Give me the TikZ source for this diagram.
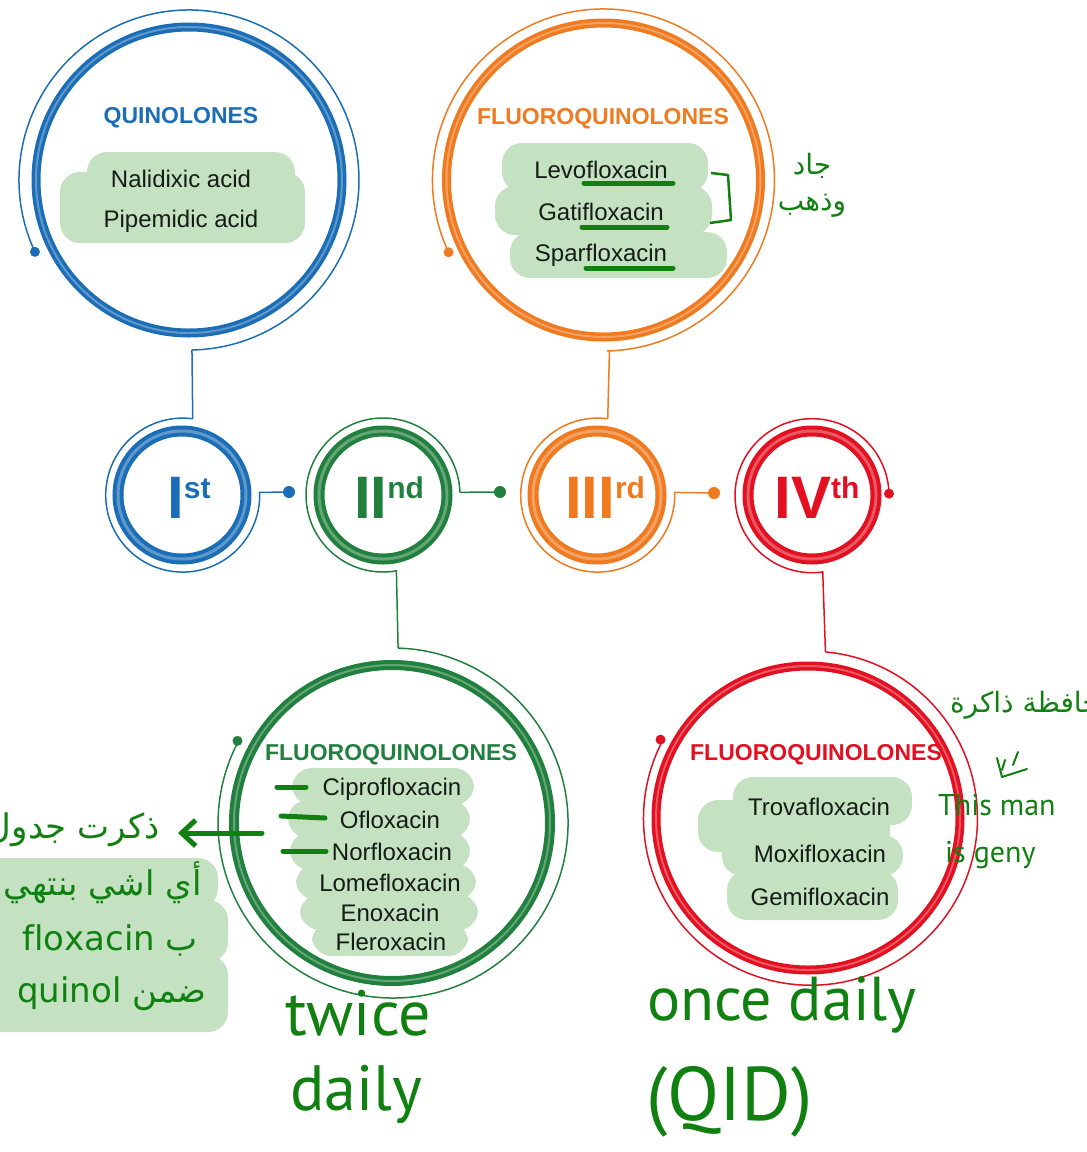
\documentclass[tikz,border=0pt]{standalone}
\usepackage{fontspec}
\setmainfont{Liberation Sans}
\newfontfamily\arabicfont[Script=Arabic]{DejaVu Sans}
\newfontfamily\handfont{PT Sans}
\TeXXeTstate=1
\usepackage{xcolor}
\usepackage{tikz}
\usetikzlibrary{arrows.meta}

\definecolor{genblue}{RGB}{27,110,182}
\definecolor{genorange}{RGB}{240,122,32}
\definecolor{gengreen}{RGB}{34,128,62}
\definecolor{genred}{RGB}{226,16,32}
\definecolor{ink}{RGB}{16,128,16}
\definecolor{marker}{RGB}{196,226,194}
\definecolor{drugtext}{RGB}{20,28,20}

\newcommand{\supord}[1]{\raisebox{20pt}{\fontsize{30}{30}\selectfont #1}}

\begin{document}
\begin{tikzpicture}[x=1pt,y=1pt,
  frame/.style={circle,inner sep=0pt,outer sep=0pt,minimum size=#1},
  tube/.style={line width=#1},
  wire/.style={line width=1.5pt},
  dot/.style={circle,fill=#1,inner sep=0pt,minimum size=12pt},
  title/.style={anchor=base,font=\fontsize{23}{23}\selectfont\bfseries},
  drug/.style={anchor=base,text=drugtext,font=\fontsize{24}{24}\selectfont},
  gen/.style={anchor=base,font=\fontsize{60}{60}\selectfont\bfseries},
  blob/.style={fill=marker,rounded corners=20pt},
  scribble/.style={draw=ink,line width=5pt,line cap=round,line join=round},
  hand/.style={text=ink,anchor=base west,inner sep=0pt,font=\handfont\fontsize{#1}{#1}\selectfont},
  arab/.style={text=ink,anchor=base east,inner sep=0pt,font=\arabicfont\fontsize{#1}{#1}\selectfont}]

\useasboundingbox (0,0) rectangle (1087,-1152);
\clip (0,0) rectangle (1087,-1152);

% outer frames: radius of the thin arcs
\node[frame=340pt] (bigI) at (189,-180) {};
\node[frame=342pt] (bigIII) at (603.5,-180) {};
\node[frame=350pt] (bigII) at (392,-823) {};
\node[frame=334pt] (bigIV) at (808,-818) {};
\node[frame=154pt] (genI) at (182,-495) {};
\node[frame=154pt] (genII) at (383,-495) {};
\node[frame=154pt] (genIII) at (597,-495) {};
\node[frame=154pt] (genIV) at (812,-495) {};
\node[dot=genblue] (dotI) at (289,-492) {};
\node[dot=gengreen] (dotII) at (500,-492) {};
\node[dot=genorange] (dotIII) at (714,-493) {};

% highlighter blobs
\fill[blob] (87,-152) rectangle (295,-200);
\fill[blob] (60,-172) rectangle (305,-243);
\fill[blob] (502,-143) rectangle (708,-192);
\fill[blob] (495,-186) rectangle (712,-235);
\fill[blob] (510,-232) rectangle (727,-278);
\fill[blob] (292,-768) rectangle (474,-805);
\fill[blob] (288,-800) rectangle (470,-838);
\fill[blob] (290,-832) rectangle (470,-870);
\fill[blob] (296,-864) rectangle (476,-900);
\fill[blob] (300,-894) rectangle (478,-930);
\fill[blob] (312,-922) rectangle (468,-956);
\fill[blob] (733,-777) rectangle (912,-825);
\fill[blob] (698,-800) rectangle (890,-852);
\fill[blob] (722,-835) rectangle (903,-876);
\fill[blob] (727,-870) rectangle (898,-920);
\fill[blob] (-30,-858) rectangle (218,-908);
\fill[blob] (-30,-900) rectangle (228,-962);
\fill[blob] (-30,-955) rectangle (228,-1032);

% first generation
\draw[genblue,tube=9pt] (bigI.center) circle[radius=153];
\draw[white,opacity=.3,tube=2pt] (bigI.center) circle[radius=153];
\draw[genblue,wire] (bigI.205) arc[start angle=205,end angle=-89,radius=170];
\fill[genblue] (bigI.205) circle[radius=5];
\draw[genblue,wire] (bigI.-89) -- (genI.82.54);
\draw[genblue,tube=11pt] (genI.center) circle[radius=64];
\draw[white,opacity=.3,tube=3pt] (genI.center) circle[radius=64];
\draw[genblue,wire] (genI.82.54) arc[start angle=82.54,end angle=362,radius=77] -- (dotI);

% second generation
\draw[gengreen,tube=10pt] (bigII.center) circle[radius=158];
\draw[white,opacity=.3,tube=2pt] (bigII.center) circle[radius=158];
\draw[gengreen,wire] (bigII.88.35) arc[start angle=88.35,end angle=-207.5,radius=175];
\fill[gengreen] (bigII.152.5) circle[radius=5];
\draw[gengreen,tube=11pt] (genII.center) circle[radius=64];
\draw[white,opacity=.3,tube=3pt] (genII.center) circle[radius=64];
\draw[gengreen,wire] (genII.2) arc[start angle=2,end angle=280.5,radius=77];
\draw[gengreen,wire] (genII.2) -- (dotII);
\draw[gengreen,wire] (genII.280.5) -- (bigII.88.35);

% third generation
\draw[genorange,tube=9pt] (bigIII.center) circle[radius=157];
\draw[white,opacity=.3,tube=2pt] (bigIII.center) circle[radius=157];
\draw[genorange,wire] (bigIII.205) arc[start angle=205,end angle=-88.83,radius=171];
\fill[genorange] (bigIII.205) circle[radius=5];
\draw[genorange,wire] (bigIII.-88.83) -- (genIII.82.54);
\draw[genorange,tube=11pt] (genIII.center) circle[radius=64];
\draw[white,opacity=.3,tube=3pt] (genIII.center) circle[radius=64];
\draw[genorange,wire] (genIII.82.54) arc[start angle=82.54,end angle=362,radius=77] -- (dotIII);

% fourth generation
\draw[genred,tube=9pt] (bigIV.center) circle[radius=152];
\draw[white,opacity=.3,tube=2pt] (bigIV.center) circle[radius=152];
\draw[genred,wire] (bigIV.84.85) arc[start angle=84.85,end angle=-207.5,radius=167];
\fill[genred] (bigIV.152.5) circle[radius=5];
\draw[genred,tube=11pt] (genIV.center) circle[radius=64];
\draw[white,opacity=.3,tube=3pt] (genIV.center) circle[radius=64];
\draw[genred,wire] (genIV.1.5) arc[start angle=1.5,end angle=278.2,radius=77];
\fill[genred] (genIV.1.5) circle[radius=5];
\draw[genred,wire] (genIV.278.2) -- (bigIV.84.85);

% generation labels
\node[gen,text=genblue] (labI) at (189,-518) {I\supord{st}};
\node[gen,text=gengreen] (labII) at (389,-518) {II\supord{nd}};
\node[gen,text=genorange] (labIII) at (605,-518) {III\supord{rd}};
\node[gen,text=genred] (labIV) at (817,-518) {IV\supord{th}};

% drug lists
\node[title,text=genblue] (titleI) at (181,-123) {QUINOLONES};
\node[drug] (nalid) at (181,-187.5) {Nalidixic acid};
\node[drug] (pipem) at (181,-227.5) {Pipemidic acid};

\node[title,text=genorange] (titleIII) at (603,-124) {FLUOROQUINOLONES};
\node[drug] (levo) at (601,-178) {Levofloxacin};
\node[drug] (gati) at (601,-220) {Gatifloxacin};
\node[drug] (spar) at (601,-261) {Sparfloxacin};

\node[title,text=gengreen] (titleII) at (391,-760) {FLUOROQUINOLONES};
\node[drug] (cipro) at (392,-795) {Ciprofloxacin};
\node[drug] (oflox) at (390,-828) {Ofloxacin};
\node[drug] (norflox) at (392,-860) {Norfloxacin};
\node[drug] (lome) at (390,-891) {Lomefloxacin};
\node[drug] (enox) at (390,-921) {Enoxacin};
\node[drug] (flerox) at (391,-950) {Fleroxacin};

\node[title,text=genred] (titleIV) at (816,-760) {FLUOROQUINOLONES};
\node[drug] (trova) at (819,-815) {Trovafloxacin};
\node[drug] (moxi) at (820,-862) {Moxifloxacin};
\node[drug] (gemi) at (820,-905) {Gemifloxacin};

% handwritten notes
\draw[scribble] (584,-183) -- (673,-183);
\draw[scribble] (582,-227) -- (667,-227);
\draw[scribble] (586,-268) -- (673,-268);
\draw[ink,line width=2.5pt,line join=round] (711,-173) -- (728,-175) -- (731,-220) -- (710,-223);
\node[text=ink,align=center,inner sep=0pt,font=\arabicfont\fontsize{28}{36}\selectfont] (cameWent) at (812,-185) {\beginR جاد\endR\\\beginR وذهب\endR};

\draw[scribble] (277,-787) -- (306,-787);
\draw[scribble] (281,-816) -- (325,-818);
\draw[scribble] (283,-851) -- (326,-851);
\node[arab=34] (noteA) at (160,-838) {\beginR ذكرت جدول\endR};
\coordinate (arrowTail) at (262,-833);
\draw[scribble,-{Straight Barb[length=14pt,width=26pt]}] (arrowTail) -- (noteA.east |- arrowTail) [shorten >=18pt];
\node[arab=34] (noteB) at (202,-895) {\beginR أي اشي بنتهي\endR};
\node[arab=34] (noteC) at (198,-950) {\beginR ب \beginL floxacin\endL\endR};
\node[arab=34] (noteD) at (207,-1002) {\beginR ضمن \beginL quinol\endL\endR};

\node[hand=64] (twice) at (285,-1035) {twice};
\node[hand=64] (dailyII) at (290,-1110) {daily};
\node[hand=62] (once) at (647,-1020) {once daily};
\node[hand=76] (qid) at (646,-1120) {(QID)};

\node[arab=28] (memo) at (1100,-712) {\beginR حافظة ذاكرة\endR};
\draw[ink,line width=2pt,line cap=round] (1005,-760) -- (1002,-770) (1018,-752) -- (1013,-765);
\draw[ink,line width=2pt,line cap=round,line join=round] (997,-758) -- (1002,-777) -- (1027,-769);
\node[hand=30] (thisMan) at (938,-815) {This man};
\node[hand=30] (isGeny) at (945,-862) {is geny};
\end{tikzpicture}
\end{document}
